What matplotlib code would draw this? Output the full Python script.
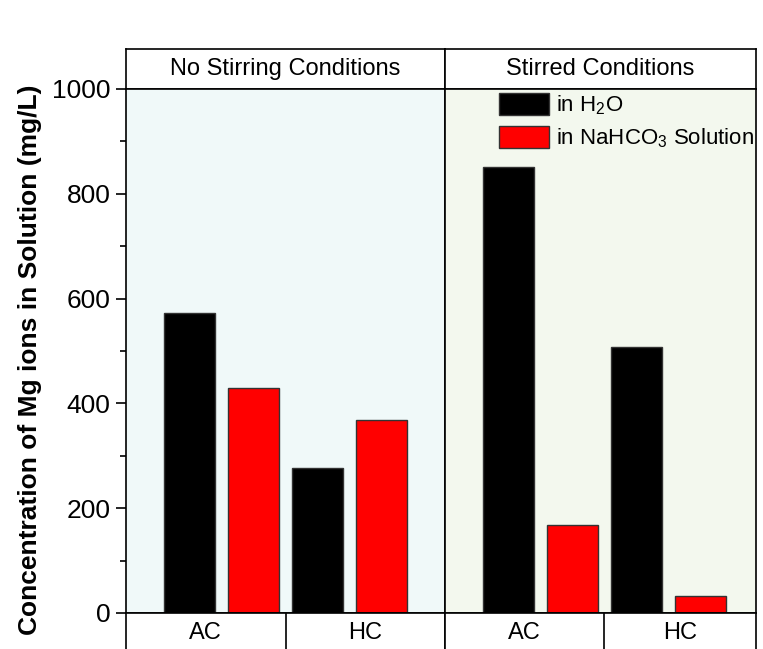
import numpy as np
import matplotlib
matplotlib.use('Agg')
import matplotlib.pyplot as plt
from matplotlib.ticker import MultipleLocator

plt.rcParams['font.family'] = ['Liberation Sans', 'DejaVu Sans']
plt.rcParams['mathtext.fontset'] = 'custom'
plt.rcParams['mathtext.rm'] = 'Liberation Sans'
plt.rcParams['mathtext.default'] = 'regular'

# data
conditions = ['No Stirring Conditions', 'Stirred Conditions']
categories = ['AC', 'HC']
h2o = [[573, 276], [852, 507]]
nahco3 = [[430, 368], [167, 33]]
series_labels = ['in H$_2$O', 'in NaHCO$_3$ Solution']

W, H = 763, 649
fig = plt.figure(figsize=(W / 100, H / 100), dpi=100)

def fx(px):
    return px / W

def fy(py):
    return (H - py) / H

unit = 63.8
panels = [(126, 445), (445, 756)]
bgs = ['#f0f9f9', '#f3f8ee']
lw = 1.2

main_axes = []
for i, (x0, x1) in enumerate(panels):
    w = x1 - x0
    xmax = w / unit
    # header band
    hx = fig.add_axes([fx(x0), fy(89), fx(w), (89 - 49) / H])
    hx.set_xlim(0, xmax)
    hx.set_ylim(0, 1)
    hx.set_xticks([])
    hx.set_yticks([])
    for s in hx.spines.values():
        s.set_linewidth(lw)
    hx.text(xmax / 2, 0.5, conditions[i], ha='center', va='center', fontsize=17)

    # main plot
    ax = fig.add_axes([fx(x0), fy(613), fx(w), (613 - 89) / H])
    ax.set_facecolor(bgs[i])
    ax.set_xlim(0, xmax)
    ax.set_ylim(0, 1000)
    ax.set_xticks([])
    for s in ax.spines.values():
        s.set_linewidth(lw)
    pos = np.array([1, 3])
    ax.bar(pos, h2o[i], width=0.8, color='black', edgecolor='#333333', linewidth=1,
           label=series_labels[0])
    ax.bar(pos + 1, nahco3[i], width=0.8, color='#ff0000', edgecolor='#333333', linewidth=1,
           label=series_labels[1])
    if i == 0:
        ax.yaxis.set_major_locator(MultipleLocator(200))
        ax.yaxis.set_minor_locator(MultipleLocator(100))
        ax.tick_params(axis='y', which='major', direction='out', length=7, width=lw,
                       labelsize=19, pad=4)
        ax.tick_params(axis='y', which='minor', direction='out', length=4, width=lw)
    else:
        ax.set_yticks([])
    main_axes.append(ax)

    # category band at bottom
    bx = fig.add_axes([fx(x0), fy(665), fx(w), (665 - 613) / H])
    bx.set_xlim(0, xmax)
    bx.set_ylim(0, 1)
    bx.set_xticks([])
    bx.set_yticks([])
    for s in bx.spines.values():
        s.set_linewidth(lw)
    mid = 2.5 if i == 0 else 2.49
    bx.axvline(mid, color='black', linewidth=lw)
    bx.text(mid / 2, 1 - 20 / 52, categories[0], ha='center', va='center', fontsize=17)
    bx.text((mid + xmax) / 2, 1 - 20 / 52, categories[1], ha='center', va='center', fontsize=17)

main_axes[1].legend(loc='upper left', bbox_to_anchor=(fx(499), fy(93)),
                    bbox_transform=fig.transFigure, frameon=False, fontsize=16,
                    borderpad=0, borderaxespad=0, handlelength=2.25, handleheight=1.17,
                    handletextpad=0.32, labelspacing=0.38)

fig.text(fx(30), fy(360), 'Concentration of Mg ions in Solution (mg/L)', rotation=90,
         ha='center', va='center', fontsize=19, fontweight='bold')

fig.savefig('out.png', dpi=100)
